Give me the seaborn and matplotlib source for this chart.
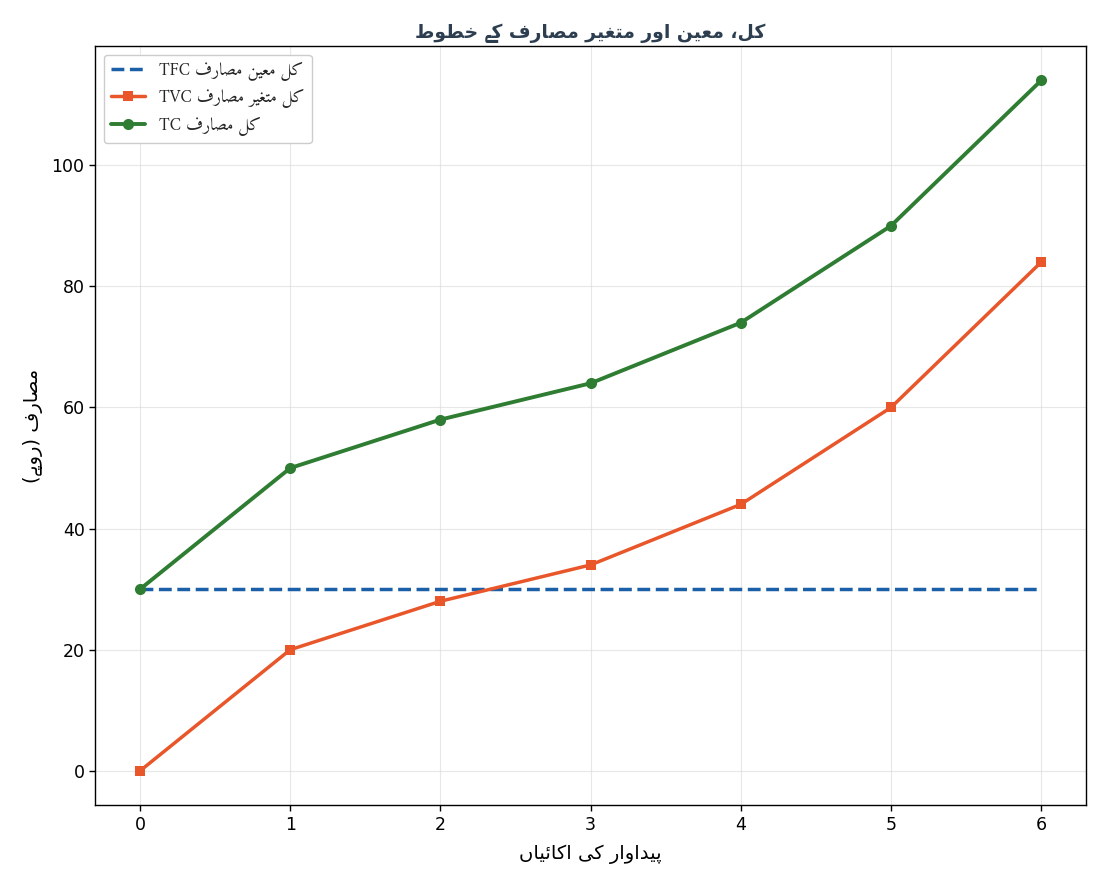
import matplotlib
matplotlib.use("Agg")
import matplotlib.pyplot as plt
import seaborn as sns
import pandas as pd

# ---- data ----
units = [0, 1, 2, 3, 4, 5, 6]
tfc = [30, 30, 30, 30, 30, 30, 30]
tvc = [0, 20, 28, 34, 44, 60, 84]
tc = [30, 50, 58, 64, 74, 90, 114]

title_txt = "کل، معین اور متغیر مصارف کے خطوط"
xlabel_txt = "پیداوار کی اکائیاں"
ylabel_txt = "مصارف (روپے)"
lab_tfc = ("TFC", "کل معین مصارف")
lab_tvc = ("TVC", "کل متغیر مصارف")
lab_tc = ("TC", "کل مصارف")

# ---- minimal Arabic-script shaping (presentation forms, visual order) ----
FORMS = {  # iso, fin, ini, med
    "ک": ("\uFB8E", "\uFB8F", "\uFB90", "\uFB91"),
    "ی": ("\uFBFC", "\uFBFD", "\uFBFE", "\uFBFF"),
    "پ": ("\uFB56", "\uFB57", "\uFB58", "\uFB59"),
    "ئ": ("\uFE89", "\uFE8A", "\uFE8B", "\uFE8C"),
    "ل": ("\uFEDD", "\uFEDE", "\uFEDF", "\uFEE0"),
    "م": ("\uFEE1", "\uFEE2", "\uFEE3", "\uFEE4"),
    "ع": ("\uFEC9", "\uFECA", "\uFECB", "\uFECC"),
    "ن": ("\uFEE5", "\uFEE6", "\uFEE7", "\uFEE8"),
    "ت": ("\uFE95", "\uFE96", "\uFE97", "\uFE98"),
    "غ": ("\uFECD", "\uFECE", "\uFECF", "\uFED0"),
    "ص": ("\uFEB9", "\uFEBA", "\uFEBB", "\uFEBC"),
    "ف": ("\uFED1", "\uFED2", "\uFED3", "\uFED4"),
    "خ": ("\uFEA5", "\uFEA6", "\uFEA7", "\uFEA8"),
    "ط": ("\uFEC1", "\uFEC2", "\uFEC3", "\uFEC4"),
    "ا": ("\uFE8D", "\uFE8E", None, None),
    "و": ("\uFEED", "\uFEEE", None, None),
    "ر": ("\uFEAD", "\uFEAE", None, None),
    "د": ("\uFEA9", "\uFEAA", None, None),
    "ے": ("\uFBAE", "\uFBAF", None, None),
    "ں": ("\uFB9E", "\uFB9F", None, None),
}
MIRROR = {"(": ")", ")": "("}


def dual(c):
    return c in FORMS and FORMS[c][2] is not None


def shape(s):
    out = []
    for i, c in enumerate(s):
        if c not in FORMS:
            out.append(c)
            continue
        prev = s[i - 1] if i > 0 else ""
        nxt = s[i + 1] if i + 1 < len(s) else ""
        jp = dual(prev)
        jn = dual(c) and nxt in FORMS
        f = FORMS[c]
        if jp and jn:
            out.append(f[3])
        elif jp:
            out.append(f[1])
        elif jn:
            out.append(f[2])
        else:
            out.append(f[0])
    return "".join(MIRROR.get(ch, ch) for ch in reversed(out))


def leg(lat_ar):
    lat, ar = lat_ar
    return lat + " " + shape(ar)


df = pd.DataFrame({"units": units, "tfc": tfc, "tvc": tvc, "tc": tc})

sns.set_theme(style="ticks")
SANS = ["DejaVu Sans", "IBM Plex Sans Arabic", "FreeSerif"]
plt.rcParams["font.family"] = SANS

fig, ax = plt.subplots(figsize=(11.05, 8.84), dpi=100)

sns.lineplot(data=df, x="units", y="tfc", ax=ax, color="#1a5fa8", linewidth=2.5,
             linestyle="--", label=leg(lab_tfc))
sns.lineplot(data=df, x="units", y="tvc", ax=ax, color="#e8562a", linewidth=2.5,
             marker="s", markersize=7, markeredgewidth=0, label=leg(lab_tvc))
sns.lineplot(data=df, x="units", y="tc", ax=ax, color="#2e7d32", linewidth=2.8,
             marker="o", markersize=8, markeredgewidth=0, label=leg(lab_tc))

ax.grid(True, color="#dddddd", alpha=0.7, linewidth=0.8)
for sp in ax.spines.values():
    sp.set_visible(True)
    sp.set_color("black")
    sp.set_linewidth(1.0)
ax.tick_params(axis="both", labelsize=12.5, colors="black", length=4, width=1)

ax.set_title(shape(title_txt), fontsize=13.5, fontweight="bold", color="#2c3e50", pad=6,
             family=SANS)
ax.set_xlabel(shape(xlabel_txt), fontsize=14, color="black", family=SANS, labelpad=8)
ax.set_ylabel(shape(ylabel_txt), fontsize=14, color="black", family=SANS, labelpad=6)

ax.legend(loc="upper left", prop={"family": ["Amiri", "Liberation Serif", "DejaVu Sans"], "size": 12.5},
          frameon=True, edgecolor="#cccccc", fancybox=True, framealpha=1.0)

fig.subplots_adjust(left=0.086, right=0.983, top=0.948, bottom=0.089)
fig.savefig("out.png", dpi=100)
